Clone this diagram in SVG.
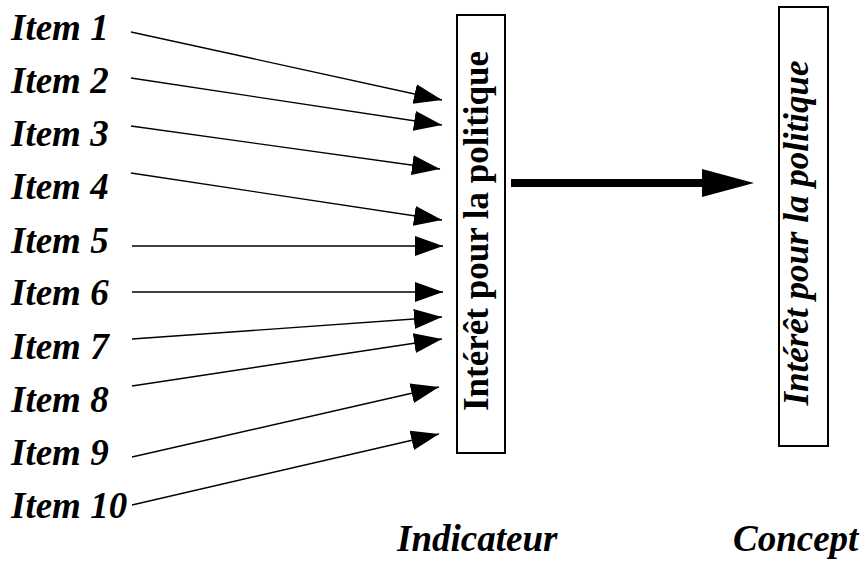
<svg xmlns="http://www.w3.org/2000/svg" width="862" height="563" viewBox="0 0 862 563">
<style>
.item{font-family:"Liberation Serif","Times New Roman",serif;font-weight:bold;font-style:italic;font-size:37px;fill:#000}
.box{fill:#fff;stroke:#000;stroke-width:2}
.ln{stroke:#000;stroke-width:1.4;fill:none;marker-end:url(#ah)}
.lbl{font-family:"Liberation Serif","Times New Roman",serif;font-weight:bold;font-size:35px;fill:#000}
</style>
<defs>
<marker id="ah" markerUnits="userSpaceOnUse" markerWidth="30" markerHeight="22" refX="28" refY="10" orient="auto">
<path d="M0,0 L28,10 L0,20 z" fill="#000"/>
</marker>
</defs>
<rect width="862" height="563" fill="#fff"/>
<g id="items">
<text class="item" x="11" y="40">Item 1</text>
<text class="item" x="11" y="93">Item 2</text>
<text class="item" x="11" y="146">Item 3</text>
<text class="item" x="11" y="199">Item 4</text>
<text class="item" x="11" y="253">Item 5</text>
<text class="item" x="11" y="305">Item 6</text>
<text class="item" x="11" y="359">Item 7</text>
<text class="item" x="11" y="412">Item 8</text>
<text class="item" x="11" y="465">Item 9</text>
<text class="item" x="11" y="518">Item 10</text>
</g>
<g id="indicateur">
<rect class="box" x="457" y="15" width="48" height="438"/>
<text class="lbl" transform="translate(488,231) rotate(-90)" text-anchor="middle">Intérêt pour la politique</text>
</g>
<g id="concept">
<rect class="box" x="779" y="7" width="49" height="439"/>
<text class="lbl" font-style="italic" transform="translate(808,233) rotate(-90)" text-anchor="middle">Intérêt pour la politique</text>
</g>
<g id="connectors">
<line class="ln" x1="131" y1="32" x2="442" y2="100"/>
<line class="ln" x1="131" y1="78" x2="442" y2="125"/>
<line class="ln" x1="131" y1="126" x2="440" y2="169"/>
<line class="ln" x1="131" y1="173" x2="442" y2="220"/>
<line class="ln" x1="132" y1="246" x2="443" y2="246"/>
<line class="ln" x1="132" y1="292" x2="443" y2="292"/>
<line class="ln" x1="132" y1="339" x2="442" y2="317"/>
<line class="ln" x1="132" y1="386" x2="442" y2="339"/>
<line class="ln" x1="132" y1="457" x2="439" y2="387"/>
<line class="ln" x1="132" y1="505" x2="439" y2="434"/>
<rect x="511" y="179" width="193" height="8" fill="#000"/>
<path d="M702,169 L754,183 L702,197 z" fill="#000"/>
</g>
<g id="labels">
<text class="item" x="397" y="551">Indicateur</text>
<text class="item" x="733" y="551">Concept</text>
</g>
</svg>
